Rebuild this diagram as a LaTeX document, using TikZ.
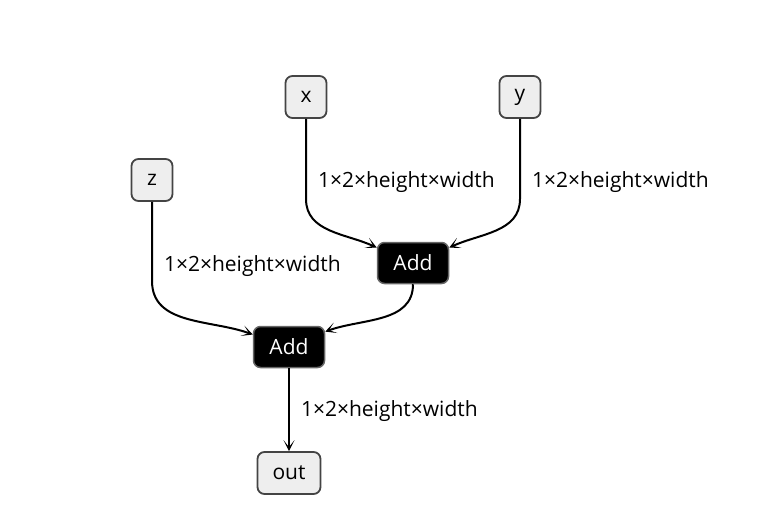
\documentclass[tikz,border=0pt]{standalone}
\usepackage{fontspec}
\setmainfont{Open Sans}
\usepackage{tikz}
\usetikzlibrary{arrows.meta, calc}
\definecolor{tensorfill}{HTML}{EEEEEE}
\definecolor{tensordraw}{HTML}{444444}
\definecolor{opdraw}{HTML}{666666}

\begin{document}
\begin{tikzpicture}[x=1pt, y=1pt,
    every node/.style={font=\fontsize{21}{25}\selectfont},
    tensor/.style={draw=tensordraw, fill=tensorfill, line width=1.8pt,
                   rounded corners=7pt, minimum width=41pt, minimum height=42pt,
                   inner sep=0pt},
    op/.style={draw=opdraw, fill=black, text=white, line width=1.5pt,
               rounded corners=7pt, minimum width=71pt, minimum height=41pt,
               inner sep=0pt},
    flow/.style={line width=2pt, -{Stealth[length=11pt, width=11pt, inset=7pt]}},
    lbl/.style={anchor=west, inner sep=0pt, xshift=11pt}]
\useasboundingbox (0,0) rectangle (776,-532);

\node[tensor] (x) at (306,-97) {x};
\node[tensor] (y) at (520,-97) {y};
\node[tensor] (z) at (152,-180) {z};
\node[op] (add1) at (413,-263) {Add};
\node[op] (add2) at (289,-347) {Add};
\node[tensor, minimum width=63pt] (out) at (289,-473) {out};

\draw[flow] (x.south) -- node[lbl, pos=0.79] {1×2×height×width} ++(0,-80)
    to[out=-90, in=155] (add1.157);
\draw[flow] (y.south) -- node[lbl, pos=0.79] {1×2×height×width} ++(0,-80)
    to[out=-90, in=25] (add1.23);
\draw[flow] (z.south) -- node[lbl, pos=0.81] {1×2×height×width} ++(0,-79)
    to[out=-90, in=160] (add2.161);
\draw[flow] (add1.south) to[out=-90, in=20] (add2.23);
\draw[flow] (add2.south) -- node[lbl, pos=0.52] {1×2×height×width} (out.north);
\end{tikzpicture}
\end{document}
